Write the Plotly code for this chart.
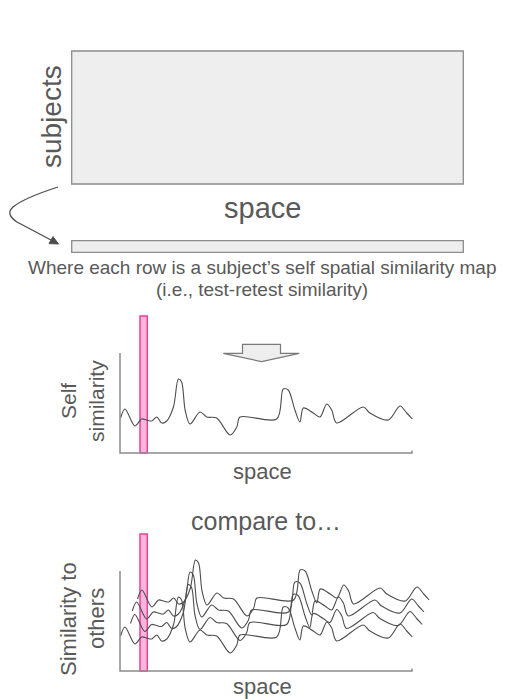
import plotly.graph_objects as go

# ---------------- data ----------------
# self spatial similarity map of one subject (space 0-100, similarity 0-1)
self_space = [0.2, 1.7, 5.1, 7.4, 9.1, 10.9, 12.6, 14.3, 16.0, 18.3, 20.0, 21.1, 22.3, 24.0,
              27.4, 29.7, 33.1, 37.7, 40.0, 41.1, 53.7, 55.9, 57.6, 59.9, 61.6, 62.8, 66.2,
              68.5, 70.8, 72.5, 74.2, 83.3, 85.6, 91.9, 95.9, 98.2, 100.1]
self_sim = [0.35, 0.44, 0.27, 0.34, 0.33, 0.32, 0.36, 0.30, 0.32, 0.46, 0.74, 0.71, 0.43, 0.29,
            0.41, 0.36, 0.35, 0.18, 0.26, 0.36, 0.34, 0.64, 0.63, 0.43, 0.31, 0.45, 0.40,
            0.36, 0.49, 0.43, 0.30, 0.46, 0.40, 0.33, 0.47, 0.40, 0.34]

# similarity to others (four other subjects)
other1_space = self_space
other1_sim = self_sim
other2_space = [3.6, 5.1, 8.5, 10.8, 12.5, 14.3, 16.0, 17.7, 19.4, 21.7, 23.4, 24.5, 25.7, 27.4,
                30.8, 33.1, 36.5, 41.1, 43.4, 44.5, 57.1, 59.3, 61.0, 63.3, 65.0, 66.2, 69.6,
                71.9, 74.2, 75.9, 77.6, 86.7, 89.0, 95.3, 99.3, 101.6, 103.5]
other2_sim = [0.475, 0.565, 0.395, 0.465, 0.455, 0.445, 0.485, 0.425, 0.445, 0.585, 0.865, 0.835,
              0.555, 0.415, 0.535, 0.485, 0.475, 0.305, 0.385, 0.485, 0.465, 0.765, 0.755, 0.555,
              0.435, 0.575, 0.525, 0.485, 0.615, 0.555, 0.425, 0.585, 0.525, 0.455, 0.595, 0.525, 0.465]
other3_space = [4.2, 5.7, 9.1, 11.4, 13.1, 14.9, 16.6, 18.3, 20.0, 22.3, 24.0, 25.1, 26.3, 28.0,
                31.4, 33.7, 37.1, 41.7, 44.0, 45.1, 57.7, 59.9, 61.6, 63.9, 65.6, 66.8, 70.2,
                72.5, 74.8, 76.5, 78.2, 87.3, 89.6, 95.9, 99.9, 102.2, 104.1]
other3_sim = [0.60, 0.69, 0.52, 0.59, 0.58, 0.57, 0.61, 0.55, 0.57, 0.71, 0.99, 0.96, 0.68, 0.54,
              0.66, 0.61, 0.60, 0.43, 0.51, 0.61, 0.59, 0.89, 0.88, 0.68, 0.56, 0.70, 0.65,
              0.61, 0.74, 0.68, 0.55, 0.71, 0.65, 0.58, 0.72, 0.65, 0.59]
other4_space = [6.0, 7.5, 10.9, 13.2, 14.9, 16.7, 18.4, 20.1, 21.8, 24.1, 25.8, 26.9, 28.1, 29.8,
                33.2, 35.5, 38.9, 43.5, 45.8, 46.9, 59.5, 61.7, 63.4, 65.7, 67.4, 68.6, 72.0,
                74.3, 76.6, 78.3, 80.0, 89.1, 91.4, 97.7, 101.7, 104.0, 105.9]
other4_sim = [0.72, 0.81, 0.64, 0.71, 0.70, 0.69, 0.73, 0.67, 0.69, 0.83, 1.11, 1.08, 0.80, 0.66,
              0.78, 0.73, 0.72, 0.55, 0.63, 0.73, 0.71, 1.01, 1.00, 0.80, 0.68, 0.82, 0.77,
              0.73, 0.86, 0.80, 0.67, 0.83, 0.77, 0.70, 0.84, 0.77, 0.71]

highlight_space = [6.85, 9.35]   # highlighted location in space
highlight_top = 1.37             # top of the highlight band (similarity units)

# ---------------- layout helpers ----------------
W, H = 510, 699
FONT = "Liberation Sans, Arial, Helvetica, sans-serif"
TXT = "#595959"
LINE = "#4d4d4d"
AX = "#8c8c8c"

SPACE_PX0, PX_PER_SPACE = 120.0, 2.92
PX_PER_SIM = 100.0


def xdom(l, r):
    return [l / W, r / W]


def ydom(top, bot):
    return [1 - bot / H, 1 - top / H]


def xrange_(l, r):
    return [(l - SPACE_PX0) / PX_PER_SPACE, (r - SPACE_PX0) / PX_PER_SPACE]


def yrange_(top, bot, zero_px):
    return [(zero_px - bot) / PX_PER_SIM, (zero_px - top) / PX_PER_SIM]


fig = go.Figure()

# canvas axis (whole page, pixel units) used for decorations / labels
fig.add_trace(go.Scatter(x=[0], y=[0], mode="markers", marker=dict(opacity=0),
                         xaxis="x", yaxis="y", hoverinfo="skip"))

# self similarity curve
fig.add_trace(go.Scatter(x=self_space, y=self_sim, mode="lines",
                         line=dict(color=LINE, width=1.1, shape="spline", smoothing=0.9),
                         xaxis="x2", yaxis="y2", hoverinfo="skip"))

# similarity to others curves
for xs, ys in [(other1_space, other1_sim), (other2_space, other2_sim),
               (other3_space, other3_sim), (other4_space, other4_sim)]:
    fig.add_trace(go.Scatter(x=xs, y=ys, mode="lines",
                             line=dict(color=LINE, width=1.1, shape="spline", smoothing=0.9),
                             xaxis="x3", yaxis="y3", hoverinfo="skip"))

shapes = []
# big subjects x space matrix
shapes.append(dict(type="rect", xref="x", yref="y", x0=71.7, x1=463.3, y0=51, y1=184,
                   fillcolor="#eeeeee", line=dict(color=AX, width=1.3), layer="below"))
# single row
shapes.append(dict(type="rect", xref="x", yref="y", x0=71.7, x1=463.3, y0=240.7, y1=252.3,
                   fillcolor="#eeeeee", line=dict(color=AX, width=1.3), layer="below"))
# curved arrow
shapes.append(dict(type="path", xref="x", yref="y",
                   path="M 58 187 Q 24 198 13 207 Q 5 214 17 222 L 51 240",
                   line=dict(color=LINE, width=1.3)))
shapes.append(dict(type="path", xref="x", yref="y",
                   path="M 58.5 244 L 49.0 243.6 L 53.0 236.6 Z",
                   fillcolor=LINE, line=dict(color=LINE, width=1)))
# block down arrow
shapes.append(dict(type="path", xref="x", yref="y",
                   path="M 242.5 344.3 L 280.5 344.3 L 280.5 353.3 L 299.3 353.3 L 261.7 361.7 "
                        "L 223.3 353.3 L 242.5 353.3 Z",
                   fillcolor="#eeeeee", line=dict(color="#7a7a7a", width=1.2)))

for xa, ya in [("x2", "y2"), ("x3", "y3")]:
    # highlight band
    shapes.append(dict(type="rect", xref=xa, yref=ya, x0=highlight_space[0], x1=highlight_space[1],
                       y0=0, y1=highlight_top, fillcolor="#f9b6db",
                       line=dict(color="#ec3f9c", width=1.5), layer="below"))
    # L-shaped axes
    shapes.append(dict(type="path", xref=xa, yref=ya, path="M 0 1 L 0 0 L 100 0 L 100 0.025",
                       line=dict(color=AX, width=1.5)))

annotations = []


def txt(text, x, y, size, angle=0):
    annotations.append(dict(text=text, x=x, y=y, xref="x", yref="y", showarrow=False,
                            textangle=angle, font=dict(family=FONT, size=size, color=TXT),
                            xanchor="center", yanchor="middle"))


txt("subjects", 51, 117, 28, -90)
txt("space", 262, 208, 29)
txt("Where each row is a subject\u2019s self spatial similarity map", 262, 267, 19)
txt("(i.e., test-retest similarity)", 262, 289, 19)
txt("Self", 68, 401, 21, -90)
txt("similarity", 96, 401, 21, -90)
txt("space", 262, 471, 22)
txt("compare to\u2026", 266, 521, 25)
txt("Similarity to", 68, 619, 22, -90)
txt("others", 96, 619, 22, -90)
txt("space", 262, 686, 22)

hidden = dict(visible=False, showgrid=False, zeroline=False, fixedrange=True)
fig.update_layout(
    width=W, height=H, margin=dict(l=0, r=0, t=0, b=0),
    paper_bgcolor="white", plot_bgcolor="rgba(0,0,0,0)", showlegend=False,
    xaxis=dict(domain=[0, 1], range=[0, W], **hidden),
    yaxis=dict(domain=[0, 1], range=[H, 0], anchor="x", **hidden),
    xaxis2=dict(domain=xdom(100, 445), range=xrange_(100, 445), anchor="y2", **hidden),
    yaxis2=dict(domain=ydom(305, 462), range=yrange_(305, 462, 453), anchor="x2", **hidden),
    xaxis3=dict(domain=xdom(100, 445), range=xrange_(100, 445), anchor="y3", **hidden),
    yaxis3=dict(domain=ydom(523, 680), range=yrange_(523, 680, 671), anchor="x3", **hidden),
    shapes=shapes, annotations=annotations,
)

fig.write_html("out.html", config={"displayModeBar": False},
               post_script="document.body.style.margin='0';document.body.style.overflow='hidden';")
